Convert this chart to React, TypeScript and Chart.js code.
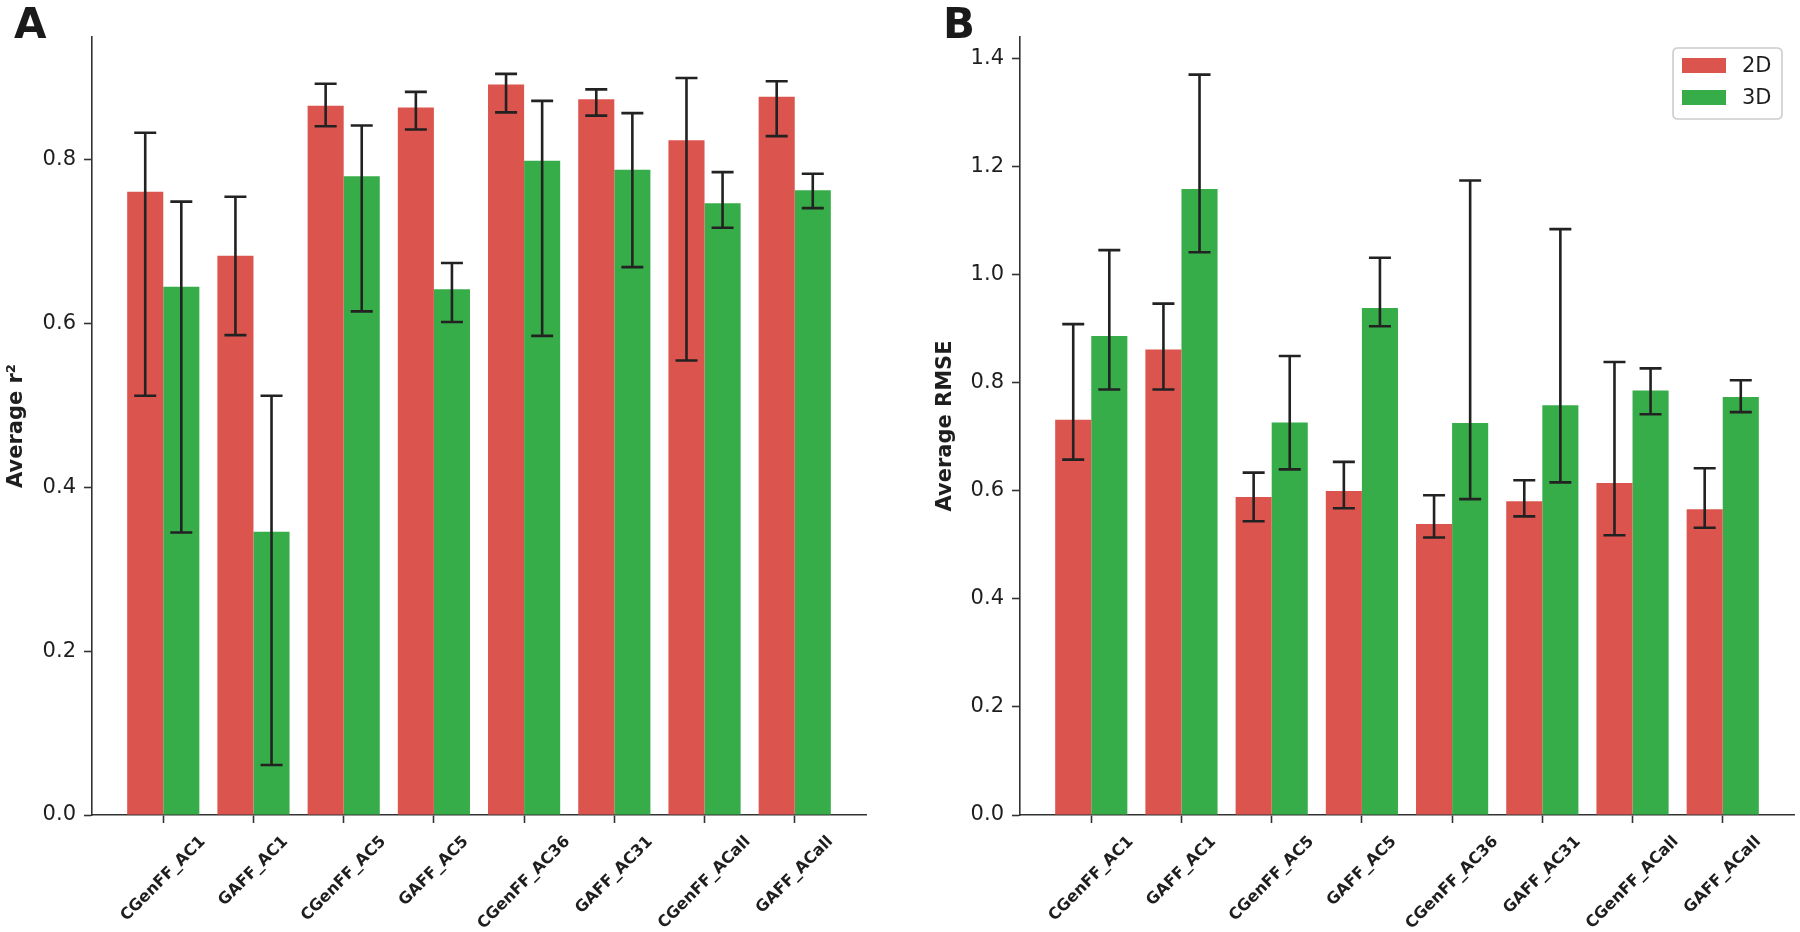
import React, { useEffect, useRef } from 'react';
import { Chart, registerables } from 'chart.js';

Chart.register(...registerables);

// ---------- data ----------
const categories = ['CGenFF_AC1', 'GAFF_AC1', 'CGenFF_AC5', 'GAFF_AC5', 'CGenFF_AC36', 'GAFF_AC31', 'CGenFF_ACall', 'GAFF_ACall'];
const seriesLabels = ['2D', '3D'];

const r2_2D = [0.761, 0.683, 0.866, 0.864, 0.892, 0.874, 0.824, 0.877];
const r2_2D_low = [0.512, 0.586, 0.841, 0.837, 0.858, 0.854, 0.555, 0.829];
const r2_2D_high = [0.833, 0.755, 0.893, 0.883, 0.905, 0.886, 0.900, 0.896];
const r2_3D = [0.645, 0.346, 0.780, 0.642, 0.799, 0.788, 0.747, 0.763];
const r2_3D_low = [0.345, 0.061, 0.615, 0.602, 0.585, 0.669, 0.717, 0.741];
const r2_3D_high = [0.749, 0.512, 0.842, 0.674, 0.872, 0.857, 0.785, 0.783];

const rmse_2D = [0.732, 0.862, 0.589, 0.600, 0.539, 0.581, 0.615, 0.566];
const rmse_2D_low = [0.658, 0.788, 0.544, 0.568, 0.514, 0.553, 0.518, 0.532];
const rmse_2D_high = [0.909, 0.947, 0.634, 0.654, 0.592, 0.620, 0.839, 0.642];
const rmse_3D = [0.887, 1.159, 0.727, 0.939, 0.726, 0.759, 0.786, 0.774];
const rmse_3D_low = [0.788, 1.042, 0.640, 0.905, 0.585, 0.616, 0.742, 0.746];
const rmse_3D_high = [1.046, 1.371, 0.850, 1.032, 1.175, 1.085, 0.827, 0.805];

const r2Ticks = [0, 0.2, 0.4, 0.6, 0.8];
const rmseTicks = [0, 0.2, 0.4, 0.6, 0.8, 1.0, 1.2, 1.4];

const r2Max = 0.95;
const rmseMax = 1.4407;
const xMin = -0.79;
const xMax = 7.79;

// ---------- styles ----------
const RED = '#db544d';
const GREEN = '#37ad49';
const AXIS = '#333333';
const TEXT = '#1e1e1e';
const ERR = '#222222';
const FONT = '"DejaVu Sans", sans-serif';

const PANEL_W = 900;
const PANEL_H = 932;

type PanelProps = {
  left: number;
  letter: string;
  letterX: number;
  yTitle: string;
  yTitlePad: number;
  yMax: number;
  yTicks: number[];
  s2D: number[];
  lo2D: number[];
  hi2D: number[];
  s3D: number[];
  lo3D: number[];
  hi3D: number[];
  area: { left: number; top: number; right: number; bottom: number };
  legend: boolean;
};

function Panel(p: PanelProps) {
  const ref = useRef<HTMLCanvasElement | null>(null);

  useEffect(() => {
    const canvas = ref.current;
    if (!canvas) return;

    const errorBars = {
      id: 'errorBars',
      afterDatasetsDraw(chart: any) {
        const ctx = chart.ctx;
        const ys = chart.scales.y;
        const sets = [
          [p.lo2D, p.hi2D],
          [p.lo3D, p.hi3D],
        ];
        ctx.save();
        ctx.strokeStyle = ERR;
        ctx.lineWidth = 2.6;
        const cap = 11;
        sets.forEach(([lo, hi], di) => {
          const meta = chart.getDatasetMeta(di);
          meta.data.forEach((el: any, j: number) => {
            const x = el.x;
            const yl = ys.getPixelForValue(lo[j]);
            const yh = ys.getPixelForValue(hi[j]);
            ctx.beginPath();
            ctx.moveTo(x, yl);
            ctx.lineTo(x, yh);
            ctx.moveTo(x - cap, yl);
            ctx.lineTo(x + cap, yl);
            ctx.moveTo(x - cap, yh);
            ctx.lineTo(x + cap, yh);
            ctx.stroke();
          });
        });
        ctx.restore();
      },
    };

    const decorations = {
      id: 'decorations',
      afterDraw(chart: any) {
        const ctx = chart.ctx;
        const xs = chart.scales.x;
        const axisY = chart.chartArea.bottom;
        const size = 16;
        ctx.save();
        ctx.fillStyle = TEXT;
        ctx.font = `bold ${size}px ${FONT}`;
        categories.forEach((c, i) => {
          const x = xs.getPixelForValue(i);
          const L = ctx.measureText(c).width;
          const h = size * 1.1;
          const half = ((L + h) * Math.SQRT1_2) / 2;
          const cy = axisY + 18 + half;
          ctx.save();
          ctx.translate(x, cy);
          ctx.rotate(-Math.PI / 4);
          ctx.textAlign = 'center';
          ctx.textBaseline = 'middle';
          ctx.fillText(c, 0, 0);
          ctx.restore();
        });

        // panel letter
        ctx.font = `bold 42px ${FONT}`;
        ctx.textAlign = 'left';
        ctx.textBaseline = 'alphabetic';
        ctx.fillStyle = '#1a1a1a';
        ctx.fillText(p.letter, p.letterX, 38);

        if (p.legend) {
          const bx = 773, by = 48, bw = 109, bh = 71, r = 5;
          ctx.beginPath();
          ctx.moveTo(bx + r, by);
          ctx.lineTo(bx + bw - r, by);
          ctx.quadraticCurveTo(bx + bw, by, bx + bw, by + r);
          ctx.lineTo(bx + bw, by + bh - r);
          ctx.quadraticCurveTo(bx + bw, by + bh, bx + bw - r, by + bh);
          ctx.lineTo(bx + r, by + bh);
          ctx.quadraticCurveTo(bx, by + bh, bx, by + bh - r);
          ctx.lineTo(bx, by + r);
          ctx.quadraticCurveTo(bx, by, bx + r, by);
          ctx.closePath();
          ctx.fillStyle = 'rgba(255,255,255,0.8)';
          ctx.fill();
          ctx.strokeStyle = '#cccccc';
          ctx.lineWidth = 1.6;
          ctx.stroke();
          const colors = [RED, GREEN];
          const rows = [65.5, 97.5];
          ctx.font = `21px ${FONT}`;
          ctx.textAlign = 'left';
          ctx.textBaseline = 'middle';
          seriesLabels.forEach((lab, k) => {
            ctx.fillStyle = colors[k];
            ctx.fillRect(782, rows[k] - 7.5, 44, 15);
            ctx.fillStyle = TEXT;
            ctx.fillText(lab, 842, rows[k] + 1);
          });
        }
        ctx.restore();
      },
    };

    const gridOpts = {
      display: true,
      drawOnChartArea: false,
      drawTicks: true,
      tickLength: 8,
      tickWidth: 1.6,
      tickColor: AXIS,
      offset: false,
    };
    const borderOpts = { display: true, color: AXIS, width: 1.6 };

    const chart = new Chart(canvas, {
      type: 'bar',
      data: {
        datasets: [
          {
            label: seriesLabels[0],
            data: p.s2D.map((v, i) => ({ x: i, y: v })),
            backgroundColor: RED,
            borderWidth: 0,
            categoryPercentage: 0.8,
            barPercentage: 1.0,
          },
          {
            label: seriesLabels[1],
            data: p.s3D.map((v, i) => ({ x: i, y: v })),
            backgroundColor: GREEN,
            borderWidth: 0,
            categoryPercentage: 0.8,
            barPercentage: 1.0,
          },
        ],
      } as any,
      options: {
        responsive: false,
        animation: false,
        devicePixelRatio: 1,
        layout: {
          padding: { left: 0, top: p.area.top, right: PANEL_W - p.area.right, bottom: 0 },
        },
        plugins: {
          legend: { display: false },
          tooltip: { enabled: false },
          title: { display: false },
        },
        scales: {
          x: {
            type: 'linear',
            min: xMin,
            max: xMax,
            offset: false,
            grid: gridOpts,
            border: borderOpts,
            ticks: { display: false },
            afterBuildTicks: (s: any) => {
              s.ticks = categories.map((_, i) => ({ value: i }));
            },
            afterFit: (s: any) => {
              s.height = PANEL_H - p.area.bottom;
            },
          },
          y: {
            type: 'linear',
            min: 0,
            max: p.yMax,
            grid: gridOpts,
            border: borderOpts,
            ticks: {
              font: { family: FONT, size: 21 },
              color: TEXT,
              padding: 8,
              callback: (v: any) => Number(v).toFixed(1),
            },
            afterBuildTicks: (s: any) => {
              s.ticks = p.yTicks.map((v) => ({ value: v }));
            },
            afterFit: (s: any) => {
              s.width = p.area.left;
            },
            title: {
              display: true,
              text: p.yTitle,
              color: TEXT,
              font: { family: FONT, size: 21, weight: 'bold' },
              padding: { top: p.yTitlePad, bottom: 0 },
            },
          },
        },
      } as any,
      plugins: [errorBars, decorations],
    });

    return () => chart.destroy();
  }, []);

  return (
    <canvas
      ref={ref}
      width={PANEL_W}
      height={PANEL_H}
      style={{ position: 'absolute', left: p.left, top: 0, width: PANEL_W, height: PANEL_H }}
    />
  );
}

export default function App() {
  return (
    <div style={{ position: 'absolute', left: 0, top: 0, width: 1800, height: 932, background: '#ffffff' }}>
      <Panel
        left={0}
        letter="A"
        letterX={14}
        yTitle="Average r²"
        yTitlePad={4}
        yMax={r2Max}
        yTicks={r2Ticks}
        s2D={r2_2D}
        lo2D={r2_2D_low}
        hi2D={r2_2D_high}
        s3D={r2_3D}
        lo3D={r2_3D_low}
        hi3D={r2_3D_high}
        area={{ left: 92, top: 37, right: 866, bottom: 815 }}
        legend={false}
      />
      <Panel
        left={900}
        letter="B"
        letterX={43}
        yTitle="Average RMSE"
        yTitlePad={33}
        yMax={rmseMax}
        yTicks={rmseTicks}
        s2D={rmse_2D}
        lo2D={rmse_2D_low}
        hi2D={rmse_2D_high}
        s3D={rmse_3D}
        lo3D={rmse_3D_low}
        hi3D={rmse_3D_high}
        area={{ left: 120, top: 37, right: 894, bottom: 815 }}
        legend={true}
      />
    </div>
  );
}
